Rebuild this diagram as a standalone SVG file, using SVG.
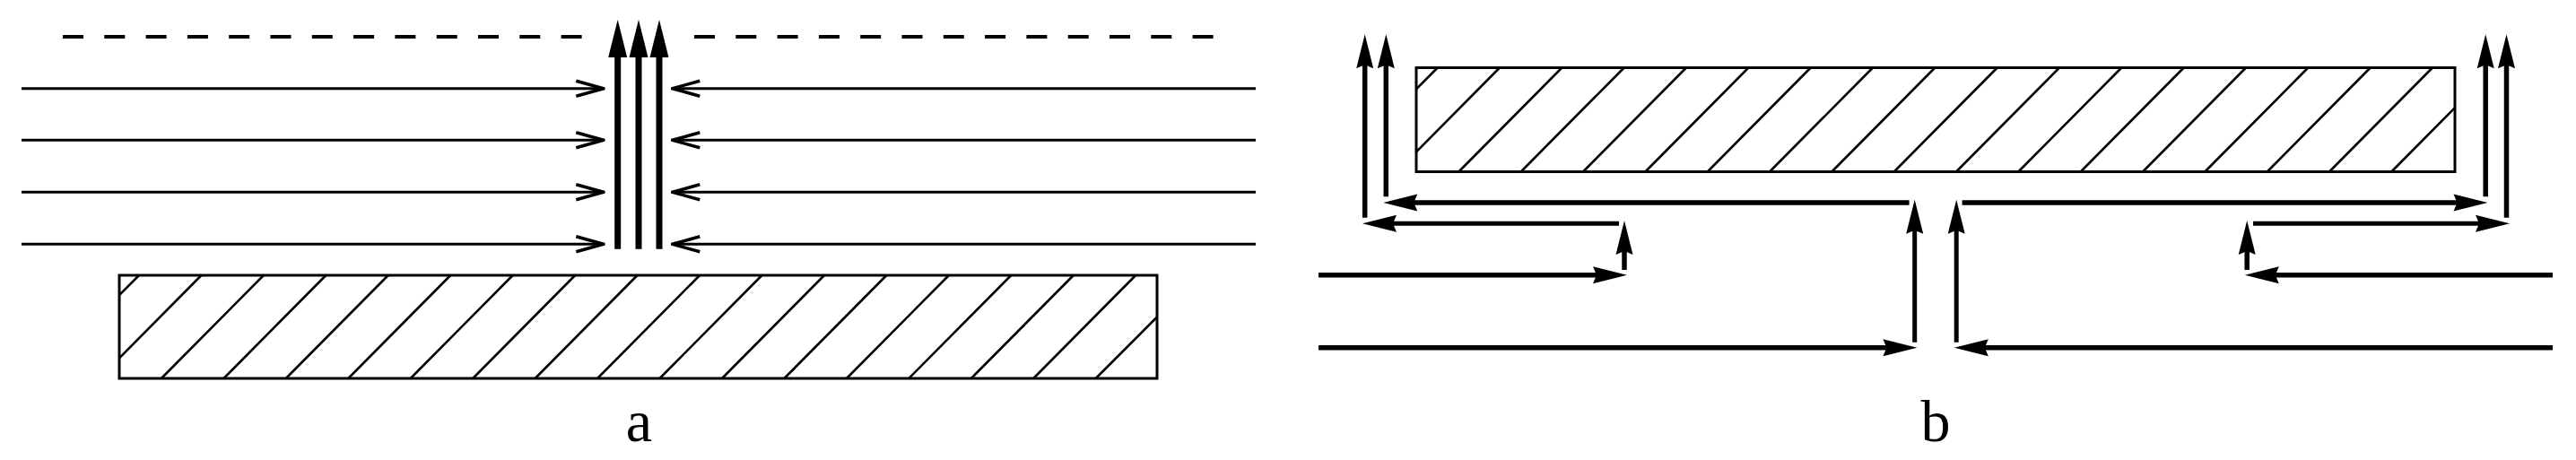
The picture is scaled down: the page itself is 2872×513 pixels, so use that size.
<svg xmlns="http://www.w3.org/2000/svg" width="2872" height="513" viewBox="0 0 2872 513">
<style>
.bg{fill:#fff}
.box{fill:#fff;stroke:#000;stroke-width:3}
.hatch{stroke:#000;stroke-width:2.6;fill:none}
.dash{stroke:#000;stroke-width:4;stroke-dasharray:23 23.3;fill:none}
.fa{stroke:#000;stroke-width:3;fill:none;marker-end:url(#openA)}
.va{stroke:#000;stroke-width:7;fill:none;marker-end:url(#headA)}
.fb{stroke:#000;stroke-width:5.5;fill:none;marker-end:url(#headB)}
.fb2{stroke:#000;stroke-width:5;fill:none;marker-end:url(#headB)}
.lbl{font-family:"Liberation Serif","Times New Roman",serif;font-size:66px;fill:#000;text-anchor:middle}
</style>
<defs>
<marker id="openA" viewBox="-50 -20 60 40" markerWidth="60" markerHeight="40" refX="0" refY="0" markerUnits="userSpaceOnUse" orient="auto">
<path d="M-32,-8.5 L-1.5,0 L-32,8.5" fill="none" stroke="#000" stroke-width="3.5" stroke-linejoin="round"/>
</marker>
<marker id="headA" viewBox="-10 -20 60 40" markerWidth="60" markerHeight="40" refX="0" refY="0" markerUnits="userSpaceOnUse" orient="auto">
<path d="M40,0 L-2,-10.5 L-2,10.5 Z" fill="#000"/>
</marker>
<marker id="headB" viewBox="-20 -20 60 40" markerWidth="60" markerHeight="40" refX="0" refY="0" markerUnits="userSpaceOnUse" orient="auto">
<path d="M30,0 L-8,-9.5 L-4,0 L-8,9.5 Z" fill="#000"/>
</marker>
</defs>
<rect class="bg" x="0" y="0" width="2872" height="513"/>

<g id="wall-a">
<rect class="box" x="133" y="307" width="1157" height="115"/>
<path class="hatch" d="M133,329.2 L155,307 M133,399.3 L224.5,307 M179.9,422 L293.9,307 M249.4,422 L363.4,307 M318.8,422 L432.8,307 M388.3,422 L502.3,307 M457.7,422 L571.7,307 M527.2,422 L641.2,307 M596.6,422 L710.6,307 M666.1,422 L780.1,307 M735.5,422 L849.5,307 M805,422 L919,307 M874.4,422 L988.4,307 M943.9,422 L1057.9,307 M1013.3,422 L1127.3,307 M1082.8,422 L1196.8,307 M1152.2,422 L1266.2,307 M1221.7,422 L1290,353.5"/>
</g>

<g id="wall-b">
<rect class="box" x="1579" y="75.5" width="1158" height="116"/>
<path class="hatch" d="M1579,99.4 L1602.7,75.5 M1579,169.3 L1672,75.5 M1626.4,191.5 L1741.4,75.5 M1695.7,191.5 L1810.7,75.5 M1765,191.5 L1880,75.5 M1834.4,191.5 L1949.4,75.5 M1903.7,191.5 L2018.7,75.5 M1973,191.5 L2088,75.5 M2042.3,191.5 L2157.3,75.5 M2111.7,191.5 L2226.7,75.5 M2181,191.5 L2296,75.5 M2250.3,191.5 L2365.3,75.5 M2319.7,191.5 L2434.7,75.5 M2389,191.5 L2504,75.5 M2458.3,191.5 L2573.3,75.5 M2527.7,191.5 L2642.7,75.5 M2597,191.5 L2712,75.5 M2666.3,191.5 L2737,120.2"/>
</g>

<g id="label-a"><text class="lbl" x="712.5" y="492">a</text></g>
<g id="label-b"><text class="lbl" x="2158" y="492">b</text></g>

<g id="connectors">
<g id="flow-a">
<line class="dash" x1="70" y1="41" x2="650" y2="41"/>
<line class="dash" x1="774" y1="41" x2="1353" y2="41"/>
<line class="fa" x1="24" y1="98.7" x2="674.3" y2="98.7"/>
<line class="fa" x1="24" y1="156.3" x2="674.3" y2="156.3"/>
<line class="fa" x1="24" y1="214.3" x2="674.3" y2="214.3"/>
<line class="fa" x1="24" y1="272.3" x2="674.3" y2="272.3"/>
<line class="fa" x1="1400" y1="98.7" x2="748.3" y2="98.7"/>
<line class="fa" x1="1400" y1="156.3" x2="748.3" y2="156.3"/>
<line class="fa" x1="1400" y1="214.3" x2="748.3" y2="214.3"/>
<line class="fa" x1="1400" y1="272.3" x2="748.3" y2="272.3"/>
<line class="va" x1="688.7" y1="277.7" x2="688.7" y2="62"/>
<line class="va" x1="712" y1="277.7" x2="712" y2="62"/>
<line class="va" x1="735" y1="277.7" x2="735" y2="62"/>
</g>
<g id="flow-b">
<line class="fb" x1="1521.7" y1="242.7" x2="1521.7" y2="68.3"/>
<line class="fb" x1="1545.3" y1="219.3" x2="1545.3" y2="68.3"/>
<line class="fb" x1="2794.5" y1="242.7" x2="2794.5" y2="68.3"/>
<line class="fb" x1="2771.2" y1="219.3" x2="2771.2" y2="68.3"/>
<line class="fb" x1="2128.6" y1="226" x2="1572.3" y2="226"/>
<line class="fb" x1="2187.6" y1="226" x2="2743.5" y2="226"/>
<line class="fb2" x1="1805" y1="249.3" x2="1549" y2="249.3"/>
<line class="fb2" x1="2512" y1="249.3" x2="2768" y2="249.3"/>
<line class="fb" x1="1811" y1="301" x2="1811" y2="276"/>
<line class="fb" x1="2505.2" y1="301" x2="2505.2" y2="276"/>
<line class="fb" x1="1470" y1="306.7" x2="1784" y2="306.7"/>
<line class="fb" x1="2846" y1="306.7" x2="2532.8" y2="306.7"/>
<line class="fb" x1="1470" y1="387.7" x2="2107.4" y2="387.7"/>
<line class="fb" x1="2846" y1="387.7" x2="2208.8" y2="387.7"/>
<line class="fb2" x1="2134.7" y1="381.7" x2="2134.7" y2="252.7"/>
<line class="fb2" x1="2181.2" y1="381.7" x2="2181.2" y2="252.7"/>
</g>
</g>
</svg>
